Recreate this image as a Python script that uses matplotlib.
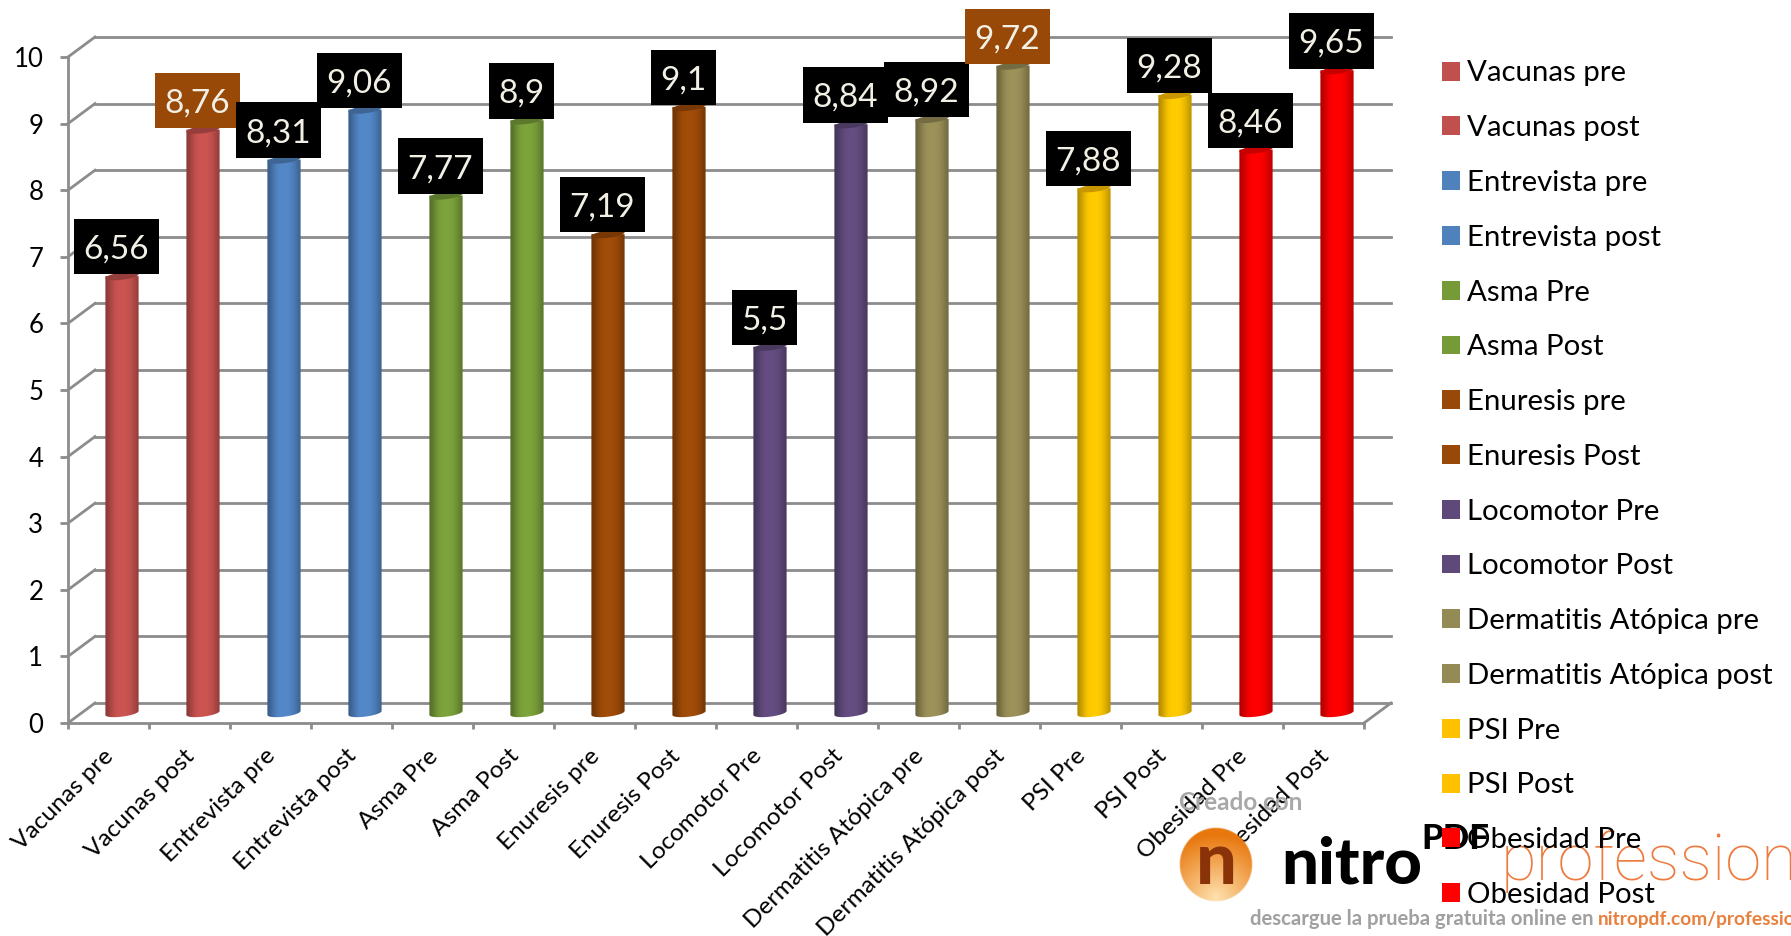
import numpy as np
import matplotlib
matplotlib.use("Agg")
import matplotlib.pyplot as plt
from matplotlib.colors import LinearSegmentedColormap, to_rgb
from matplotlib.patches import Patch, Polygon
from matplotlib.path import Path

# values
labels = ["Vacunas pre", "Vacunas post", "Entrevista pre", "Entrevista post",
          "Asma Pre", "Asma Post", "Enuresis pre", "Enuresis Post",
          "Locomotor Pre", "Locomotor Post", "Dermatitis Atópica pre",
          "Dermatitis Atópica post", "PSI Pre", "PSI Post", "Obesidad Pre",
          "Obesidad Post"]
values = [6.56, 8.76, 8.31, 9.06, 7.77, 8.9, 7.19, 9.1, 5.5, 8.84, 8.92, 9.72,
          7.88, 9.28, 8.46, 9.65]
value_text = ["6,56", "8,76", "8,31", "9,06", "7,77", "8,9", "7,19", "9,1",
              "5,5", "8,84", "8,92", "9,72", "7,88", "9,28", "8,46", "9,65"]
colors = ["#C0504D", "#C0504D", "#4F81BD", "#4F81BD", "#769A38", "#769A38",
          "#984807", "#984807", "#5F497A", "#5F497A", "#948A54", "#948A54",
          "#FFC000", "#FFC000", "#FF0000", "#FF0000"]
box_colors = ["black", "#984807", "black", "black", "black", "black", "black",
              "black", "black", "black", "black", "#984807", "black", "black",
              "black", "black"]
yticks = [0, 1, 2, 3, 4, 5, 6, 7, 8, 9, 10]

W, H = 1791, 936
GRID = "#8c8c8c"
plt.rcParams["font.family"] = ["Lato", "DejaVu Sans"]


# label box with more room above the digits than below
def label_box(x0, y0, width, height, mutation_size):
    px = 0.29 * mutation_size
    top = 0.47 * mutation_size
    bottom = 0.29 * mutation_size
    x1, y1 = x0 + width + px, y0 + height + top
    x0, y0 = x0 - px, y0 - bottom
    return Path([(x0, y0), (x1, y0), (x1, y1), (x0, y1), (x0, y0)], closed=True)


fig = plt.figure(figsize=(W / 100, H / 100), dpi=100)
# front edge of the chart box in pixels
ax = fig.add_axes([68 / W, (H - 723) / H, 1296 / W, 666 / H])
ax.set_xlim(0, 16)
ax.set_ylim(0, 10)
ax.set_facecolor("none")

# fake 3d depth, in data units
dx, dy = 27 / 81, 20 / 66.6

# back wall, left wall and floor
for v in yticks:
    ax.plot([dx, 16 + dx], [v + dy, v + dy], color=GRID, lw=2, clip_on=False, zorder=1)
    ax.plot([0, dx], [v, v + dy], color=GRID, lw=2, clip_on=False, zorder=1)
ax.plot([16, 16 + dx], [0, dy], color=GRID, lw=2, clip_on=False, zorder=1)

for s in ["top", "right"]:
    ax.spines[s].set_visible(False)
for s in ["left", "bottom"]:
    ax.spines[s].set_color(GRID)
    ax.spines[s].set_linewidth(2)

ax.set_yticks(yticks)
ax.set_xticks(range(17))
ax.set_xticklabels([])
ax.set_xticks(np.arange(16) + 0.43, labels=labels, minor=True, rotation=45,
              ha="right", rotation_mode="anchor")
ax.tick_params(axis="x", which="major", length=4.5, width=2, color=GRID)
ax.tick_params(axis="x", which="minor", length=0, pad=16, labelsize=17.6)
ax.tick_params(axis="y", length=5.8, width=2, color=GRID, labelsize=18.5, pad=12)

# cylinders: a horizontal shade across each bar and two ellipses
half = 0.205
ell = 0.055
tilt = 0.03
t = np.linspace(0, 2 * np.pi, 80)
lower = np.linspace(np.pi, 2 * np.pi, 40)
shade = np.array([[0.4, 0.6, 0.8, 0.95, 1.0, 1.0, 1.0, 0.95, 0.85, 0.7, 0.5]])
for i, (v, c) in enumerate(zip(values, colors)):
    cx = i + 0.5 + dx / 2
    base = dy / 2
    rgb = np.array(to_rgb(c))
    cmap = LinearSegmentedColormap.from_list("bar", [rgb * 0.5, np.clip(rgb * 1.06, 0, 1)])
    ex = cx + half * np.cos(t)
    ey = ell * np.sin(t) + tilt * np.cos(t)
    im = ax.imshow(shade, cmap=cmap, vmin=0, vmax=1, aspect="auto", interpolation="bicubic",
                   extent=[cx - half, cx + half, base - 2 * ell, base + v], zorder=3)
    # round off the foot of the cylinder
    foot = np.column_stack([cx + half * np.cos(lower),
                            base + ell * np.sin(lower) + tilt * np.cos(lower)])
    outline = np.vstack([foot, [cx + half, base + v], [cx - half, base + v]])
    im.set_clip_path(Polygon(outline, transform=ax.transData))
    ax.fill(ex, base + v + ey, color=rgb * 0.78, lw=0, zorder=4, clip_on=False)
    ax.annotate(value_text[i], (cx, base + v), xytext=(-4, 19), textcoords="offset points",
                ha="center", va="center", fontsize=24, color="#F2EFE4", zorder=6,
                bbox=dict(boxstyle=label_box, fc=box_colors[i], ec="none"),
                annotation_clip=False)
ax.set_xlim(0, 16)
ax.set_ylim(0, 10)

# overlay in picture pixels for the pdf converter stamp
over = fig.add_axes([0, 0, 1, 1], zorder=5)
over.set_xlim(0, W)
over.set_ylim(H, 0)
over.axis("off")
over.patch.set_alpha(0)

# legend
handles = [Patch(facecolor=c, edgecolor="none", label=l) for c, l in zip(colors, labels)]
leg = over.legend(handles=handles, loc="upper left", bbox_to_anchor=(1442 / W, 1 - 60.5 / H),
                  frameon=False, fontsize=21.2, handlelength=0.61, handleheight=0.61,
                  handletextpad=0.24, labelspacing=0.977, borderpad=0, borderaxespad=0)
leg.set_zorder(9)

# stamp
yy, xx = np.mgrid[-1:1:150j, -1:1:150j]
r = np.hypot(xx, yy)
logo = np.zeros((150, 150, 4))
glow = np.clip(np.hypot(xx, yy - 0.9) / 1.7, 0, 1)[..., None]
logo[..., :3] = (1 - glow) * np.array(to_rgb("#FFE2B0")) + glow * np.array(to_rgb("#E8780E"))
logo[..., 3] = np.clip((1 - r) * 30, 0, 1)
over.imshow(logo, extent=[1179, 1253, 902, 827], aspect="auto", zorder=7)
over.set_xlim(0, W)
over.set_ylim(H, 0)
over.text(1216, 884, "n", ha="center", va="baseline", fontsize=52, fontweight="black",
          color="#8A3208", zorder=8)
over.text(1179, 810, "Creado con", fontsize=17.5, fontweight="bold", color="#A8A8A8", zorder=7)
over.text(1281, 883, "nitro", fontsize=47, fontweight="black", color="black", zorder=7)
over.text(1421, 849, "PDF", fontsize=25, fontweight="black", color="black", zorder=7)
over.text(1501, 880, "professional", fontsize=47, family="Roboto", fontweight="light",
          color="#EE7B3E", zorder=7, clip_on=False)
over.text(1250, 925, "descargue la prueba gratuita online en", fontsize=14.6, fontweight="bold",
          color="#A0A0A0", zorder=7)
over.text(1598, 925, "nitropdf.com/professional", fontsize=13.8, fontweight="bold",
          color="#E8803E", zorder=7)

fig.savefig("out.png", dpi=100)
